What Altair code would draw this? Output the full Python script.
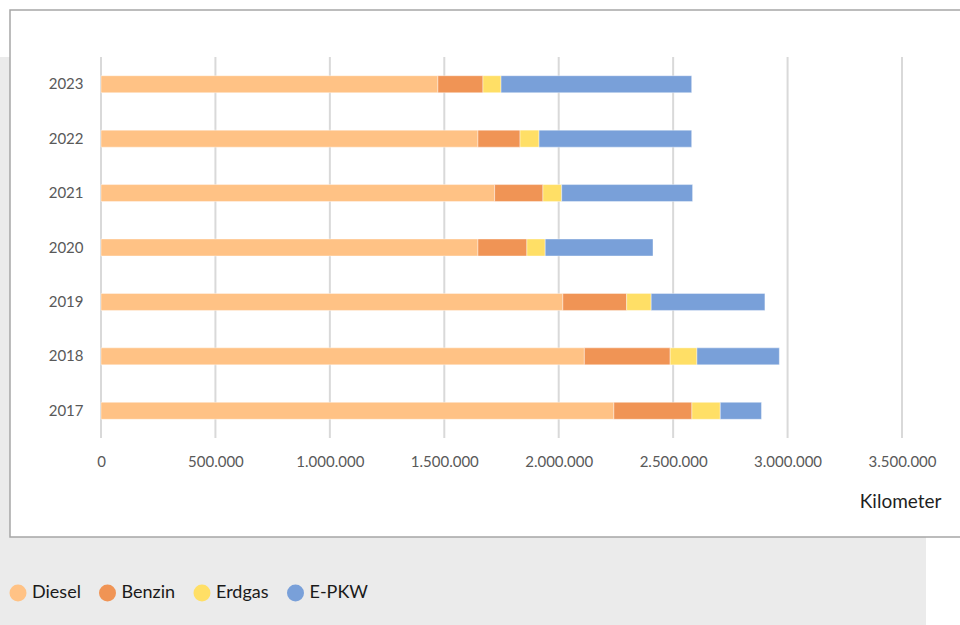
import altair as alt
import pandas as pd

years = ["2017", "2018", "2019", "2020", "2021", "2022", "2023"]
diesel = [2241000, 2112000, 2018000, 1647000, 1720000, 1647000, 1472000]
benzin = [341000, 375000, 279000, 214000, 211000, 184000, 197000]
erdgas = [124000, 117000, 107000, 80000, 82000, 83000, 79000]
epkw = [180000, 360000, 497000, 471000, 572000, 667000, 833000]

fuels = ["Diesel", "Benzin", "Erdgas", "E-PKW"]
colors = ["#FFC285", "#F09455", "#FFDF66", "#79A0D9"]
tick_values = [0, 500000, 1000000, 1500000, 2000000, 2500000, 3000000, 3500000]

rows = []
for i, yr in enumerate(years):
    for j, (f, vals) in enumerate(zip(fuels, [diesel, benzin, erdgas, epkw])):
        rows.append({"Jahr": yr, "Antrieb": f, "km": vals[i], "ord": j})
df = pd.DataFrame(rows)

one = pd.DataFrame({"k": [0]})
xscale = alt.Scale(domain=[0, 3500000], nice=False, zero=True)

xaxis = alt.Axis(
    values=tick_values,
    grid=False,
    domain=False,
    ticks=False,
    labelExpr="join(split(format(datum.value, ','), ','), '.')",
    labelFont="Lato",
    labelFontSize=15,
    labelColor="#595959",
    labelPadding=16,
    labelFlush=False,
    labelOverlap=False,
    title="Kilometer",
    titleFont="Lato",
    titleFontSize=19,
    titleFontWeight="normal",
    titleColor="#1F1F1F",
    titleAlign="right",
    titleAnchor="end",
    titleX=840,
    titleY=69,
    titleBaseline="alphabetic",
    zindex=1,
)

grey = alt.Chart(one).mark_rect(color="#EBEBEB").encode(
    x=alt.value(-101), x2=alt.value(825), y=alt.value(0), y2=alt.value(568)
)
box = alt.Chart(one).mark_rect(fill="white", stroke="#A6A6A6", strokeWidth=1.5).encode(
    x=alt.value(-91), x2=alt.value(900), y=alt.value(-47), y2=alt.value(480)
)
grid = alt.Chart(pd.DataFrame({"km": tick_values})).mark_rule(
    color="#D9D9D9", strokeWidth=2
).encode(
    x=alt.X("km:Q", scale=xscale, axis=xaxis),
    y=alt.value(0),
    y2=alt.value(381),
)

bars = alt.Chart(df).mark_bar(stroke="white", strokeWidth=0.8, strokeOpacity=0.5).encode(
    x=alt.X("km:Q", stack="zero", scale=xscale, axis=xaxis),
    y=alt.Y(
        "Jahr:N",
        sort="descending",
        scale=alt.Scale(paddingInner=0.6875, paddingOuter=0.34375),
        axis=alt.Axis(
            title=None,
            domain=False,
            ticks=False,
            labelFont="Lato",
            labelFontSize=15,
            labelColor="#595959",
            labelPadding=18,
            zindex=1,
        ),
    ),
    color=alt.Color(
        "Antrieb:N",
        scale=alt.Scale(domain=fuels, range=colors),
        legend=alt.Legend(
            title=None,
            orient="none",
            direction="horizontal",
            legendX=-92,
            legendY=527,
            symbolType="circle",
            symbolSize=289,
            symbolStrokeWidth=0,
            symbolOpacity=1,
            labelFont="Lato",
            labelFontSize=18,
            labelColor="#1A1A1A",
            labelOffset=5,
            columnPadding=17.5,
            padding=0,
            zindex=1,
        ),
    ),
    order=alt.Order("ord:Q"),
)

chart = (
    alt.layer(grey, box, grid, bars)
    .properties(
        width=801,
        height=381,
        autosize=alt.AutoSizeParams(type="none"),
        padding={"left": 101, "top": 57, "right": 58, "bottom": 187},
        background="white",
    )
    .configure_view(stroke=None)
)

chart.save("out.html", embed_options={"renderer": "svg", "actions": False})
